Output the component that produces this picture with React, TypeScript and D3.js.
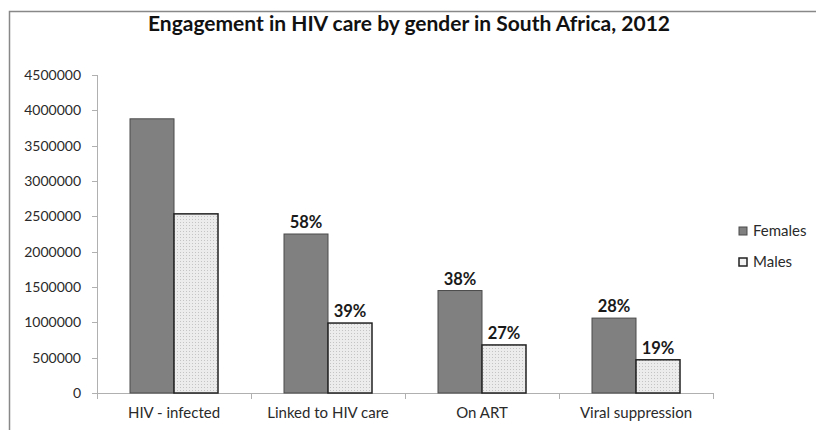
import * as d3 from 'd3';
import { useEffect, useRef } from 'react';

// Engagement in HIV care by gender, South Africa 2012
const CATEGORIES = ['HIV - infected', 'Linked to HIV care', 'On ART', 'Viral suppression'];
const SERIES = ['Females', 'Males'];
const FEMALES = [3880000, 2250000, 1450000, 1060000];
const MALES = [2535000, 990000, 680000, 470000];
const FEMALE_PCT = ['', '58%', '38%', '28%'];
const MALE_PCT = ['', '39%', '27%', '19%'];
const Y_TICKS = [0, 500000, 1000000, 1500000, 2000000, 2500000, 3000000, 3500000, 4000000, 4500000];

const W = 816;
const H = 430;
const MARGIN = { top: 75, left: 97, right: 103, bottom: 37 };
const FONT = 'Lato, "Open Sans", sans-serif';

export default function App() {
  const svgRef = useRef<SVGSVGElement>(null);

  useEffect(() => {
    if (!svgRef.current) return;
    const svg = d3.select(svgRef.current);
    svg.selectAll('*').remove();

    const x0 = d3.scaleBand().domain(CATEGORIES).range([MARGIN.left, W - MARGIN.right]).paddingInner(0).paddingOuter(0);
    const y = d3.scaleLinear().domain([0, 4500000]).range([H - MARGIN.bottom, MARGIN.top]);
    const bw = 44;

    // dotted fill for males
    const defs = svg.append('defs');
    const pat = defs.append('pattern').attr('id', 'dots').attr('patternUnits', 'userSpaceOnUse').attr('width', 3).attr('height', 3);
    pat.append('rect').attr('width', 3).attr('height', 3).attr('fill', '#ececec');
    pat.append('rect').attr('width', 1).attr('height', 1).attr('fill', '#c4c4c4');

    // frame
    svg.append('path')
      .attr('d', `M9.5,${H + 2} V11.5 H${W + 2}`)
      .attr('fill', 'none').attr('stroke', '#888').attr('stroke-width', 1.5);

    svg.append('text')
      .attr('x', 409).attr('y', 31).attr('text-anchor', 'middle')
      .attr('font-family', FONT).attr('font-weight', 'bold').attr('font-size', 20.5).attr('fill', '#111')
      .attr('textLength', 522).attr('lengthAdjust', 'spacingAndGlyphs')
      .text('Engagement in HIV care by gender in South Africa, 2012');

    // y axis
    const yAxis = svg.append('g');
    yAxis.append('line').attr('x1', MARGIN.left + 0.5).attr('x2', MARGIN.left + 0.5)
      .attr('y1', y(4500000)).attr('y2', y(0)).attr('stroke', '#b0b0b0');
    Y_TICKS.forEach(t => {
      yAxis.append('line').attr('x1', MARGIN.left - 5).attr('x2', MARGIN.left)
        .attr('y1', Math.round(y(t)) + 0.5).attr('y2', Math.round(y(t)) + 0.5).attr('stroke', '#b0b0b0');
      yAxis.append('text').attr('x', 81).attr('y', y(t)).attr('dy', '0.35em')
        .attr('text-anchor', 'end').attr('font-family', FONT).attr('font-size', 14).attr('fill', '#2a2a2a')
        .text(String(t));
    });

    // x axis
    const xAxis = svg.append('g');
    xAxis.append('line').attr('x1', MARGIN.left).attr('x2', W - MARGIN.right)
      .attr('y1', y(0) + 0.5).attr('y2', y(0) + 0.5).attr('stroke', '#b0b0b0');
    [...CATEGORIES.map(c => x0(c) as number), W - MARGIN.right].forEach(px => {
      xAxis.append('line').attr('x1', px + 0.5).attr('x2', px + 0.5)
        .attr('y1', y(0)).attr('y2', y(0) + 6).attr('stroke', '#b0b0b0');
    });
    CATEGORIES.forEach(c => {
      xAxis.append('text').attr('x', (x0(c) as number) + x0.bandwidth() / 2).attr('y', 418)
        .attr('text-anchor', 'middle').attr('font-family', FONT).attr('font-size', 15).attr('fill', '#2a2a2a')
        .text(c);
    });

    // bars
    const groups = [
      { vals: FEMALES, pct: FEMALE_PCT, fill: '#808080', stroke: '#4a4a4a', sw: 1, off: -bw },
      { vals: MALES, pct: MALE_PCT, fill: 'url(#dots)', stroke: '#222', sw: 1.5, off: 0 },
    ];
    groups.forEach(g => {
      CATEGORIES.forEach((c, i) => {
        const cx = (x0(c) as number) + x0.bandwidth() / 2;
        const top = y(g.vals[i]);
        svg.append('rect')
          .attr('x', cx + g.off).attr('y', top).attr('width', bw).attr('height', y(0) - top)
          .attr('fill', g.fill).attr('stroke', g.stroke).attr('stroke-width', g.sw);
        if (g.pct[i]) {
          svg.append('text').attr('x', cx + g.off + bw / 2).attr('y', top - 6)
            .attr('text-anchor', 'middle').attr('font-family', FONT).attr('font-weight', 'bold')
            .attr('font-size', 16.5).attr('fill', '#1a1a1a').text(g.pct[i]);
        }
      });
    });

    // legend
    SERIES.forEach((s, i) => {
      const ly = 231 + i * 31;
      svg.append('rect').attr('x', 739).attr('y', ly - 4).attr('width', 8).attr('height', 8)
        .attr('fill', i === 0 ? '#808080' : '#f2f2f2')
        .attr('stroke', i === 0 ? '#4a4a4a' : '#222').attr('stroke-width', i === 0 ? 1 : 1.5);
      svg.append('text').attr('x', 753).attr('y', ly).attr('dy', '0.35em')
        .attr('font-family', FONT).attr('font-size', 15).attr('fill', '#2a2a2a').text(s);
    });
  }, []);

  return (
    <div style={{ position: 'absolute', left: 0, top: 0 }}>
      <svg ref={svgRef} width={W} height={H} style={{ display: 'block', background: '#fff' }} />
    </div>
  );
}
